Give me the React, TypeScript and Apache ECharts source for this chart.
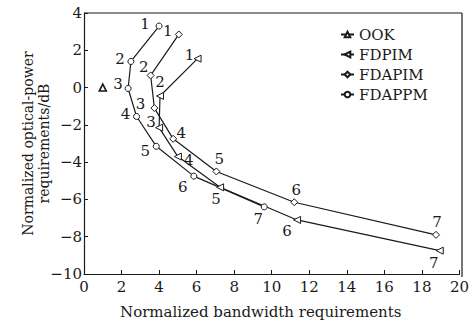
import React, { useEffect, useRef } from "react";
import * as echarts from "echarts";

const ookX = [1.0];
const ookY = [0];
const fdpimX = [6.05, 4.05, 4.0, 5.0, 7.25, 11.35, 18.95];
const fdpimY = [1.55, -0.45, -2.15, -3.7, -5.35, -7.1, -8.75];
const fdapimX = [5.05, 3.55, 3.75, 4.75, 7.05, 11.2, 18.75];
const fdapimY = [2.85, 0.65, -1.1, -2.75, -4.5, -6.15, -7.9];
const fdappmX = [4.0, 2.5, 2.35, 2.8, 3.85, 5.85, 9.6];
const fdappmY = [3.3, 1.4, -0.05, -1.55, -3.15, -4.75, -6.4];
const pointLabels = ["1", "2", "3", "4", "5", "6", "7"];

const fdpimLabelOff = [[-8, -4], [0, -14], [-8, -6], [11, 3], [-4, 12], [-10, 11], [-6, 12]];
const fdapimLabelOff = [[-11, -3], [-7, -8], [-14, -4], [8, -6], [3, -12], [2, -12], [1, -13]];
const fdappmLabelOff = [[-14, -2], [-11, -2], [-10, -5], [-11, -2], [-11, 5], [-11, 11], [-6, 12]];

const FONT = "DejaVu Serif";
const INK = "#1a1a1a";

function build(xs: number[], ys: number[], offs: number[][] | null) {
  return xs.map((x, i) => {
    const item: any = { value: [x, ys[i]] };
    if (offs) {
      item.label = {
        show: true,
        position: "inside",
        offset: offs[i],
        formatter: pointLabels[i],
      };
    }
    return item;
  });
}

export default function App() {
  const ref = useRef<HTMLDivElement>(null);
  useEffect(() => {
    document.body.style.margin = "0";
    if (!ref.current) return;
    const chart = echarts.init(ref.current, null, { renderer: "svg" });
    const baseSeries = (name: string, symbol: string, rotate: number, data: any[], bw = 1) => ({
      name,
      type: "line",
      data,
      symbol,
      symbolRotate: rotate,
      symbolSize: symbol === "circle" ? 6 : 7,
      showAllSymbol: true,
      lineStyle: { color: INK, width: 1.2 },
      itemStyle: { color: "#fff", borderColor: INK, borderWidth: bw },
      label: {
        show: false,
        color: INK,
        fontFamily: FONT,
        fontSize: 15,
      },
      emphasis: { disabled: true },
      z: 3,
    });
    const axisLabelStyle = {
      color: INK,
      fontFamily: FONT,
      fontSize: 15,
      formatter: (v: number) => String(v).replace("-", "\u2212"),
    };
    chart.setOption({
      animation: false,
      backgroundColor: "#fff",
      textStyle: { fontFamily: FONT },
      grid: { left: 84, right: 10, top: 13, bottom: 47, show: false },
      legend: {
        orient: "vertical",
        left: 335,
        top: 22,
        itemGap: 5,
        itemWidth: 13,
        itemHeight: 7,
        textStyle: { color: INK, fontFamily: FONT, fontSize: 15 },
        data: ["OOK", "FDPIM", "FDAPIM", "FDAPPM"],
      },
      xAxis: {
        type: "value",
        min: 0,
        max: 20,
        interval: 2,
        name: "Normalized bandwidth requirements",
        nameLocation: "middle",
        nameMoveOverlap: false,
        nameGap: 30,
        nameTextStyle: { color: INK, fontFamily: FONT, fontSize: 15, padding: [0, 22, 0, 0] },
        axisLine: { show: true, onZero: false, lineStyle: { color: INK, width: 1.2 } },
        axisTick: { show: true, inside: true, length: 4, lineStyle: { color: INK } },
        axisLabel: { ...axisLabelStyle, margin: 5 },
        splitLine: { show: false },
      },
      yAxis: {
        type: "value",
        min: -10,
        max: 4,
        interval: 2,
        name: "Normalized optical-power\nrequirements/dB",
        nameLocation: "middle",
        nameMoveOverlap: false,
        nameGap: 32,
        nameTextStyle: { color: INK, fontFamily: FONT, fontSize: 14, lineHeight: 16 },
        axisLine: { show: true, onZero: false, lineStyle: { color: INK, width: 1.2 } },
        axisTick: { show: true, inside: true, length: 4, lineStyle: { color: INK } },
        axisLabel: { ...axisLabelStyle, margin: 2 },
        splitLine: { show: false },
      },
      graphic: [
        {
          type: "line",
          shape: { x1: 84, y1: 13, x2: 462, y2: 13 },
          style: { stroke: INK, lineWidth: 1.2 },
        },
        {
          type: "line",
          shape: { x1: 462, y1: 13, x2: 462, y2: 277 },
          style: { stroke: INK, lineWidth: 1.2 },
        },
      ],
      series: [
        baseSeries("OOK", "triangle", 0, build(ookX, ookY, null), 1.6),
        baseSeries("FDPIM", "triangle", 90, build(fdpimX, fdpimY, fdpimLabelOff)),
        baseSeries("FDAPIM", "diamond", 0, build(fdapimX, fdapimY, fdapimLabelOff)),
        baseSeries("FDAPPM", "circle", 0, build(fdappmX, fdappmY, fdappmLabelOff)),
      ],
    });
    return () => chart.dispose();
  }, []);
  return <div ref={ref} style={{ width: 472, height: 324 }} />;
}
